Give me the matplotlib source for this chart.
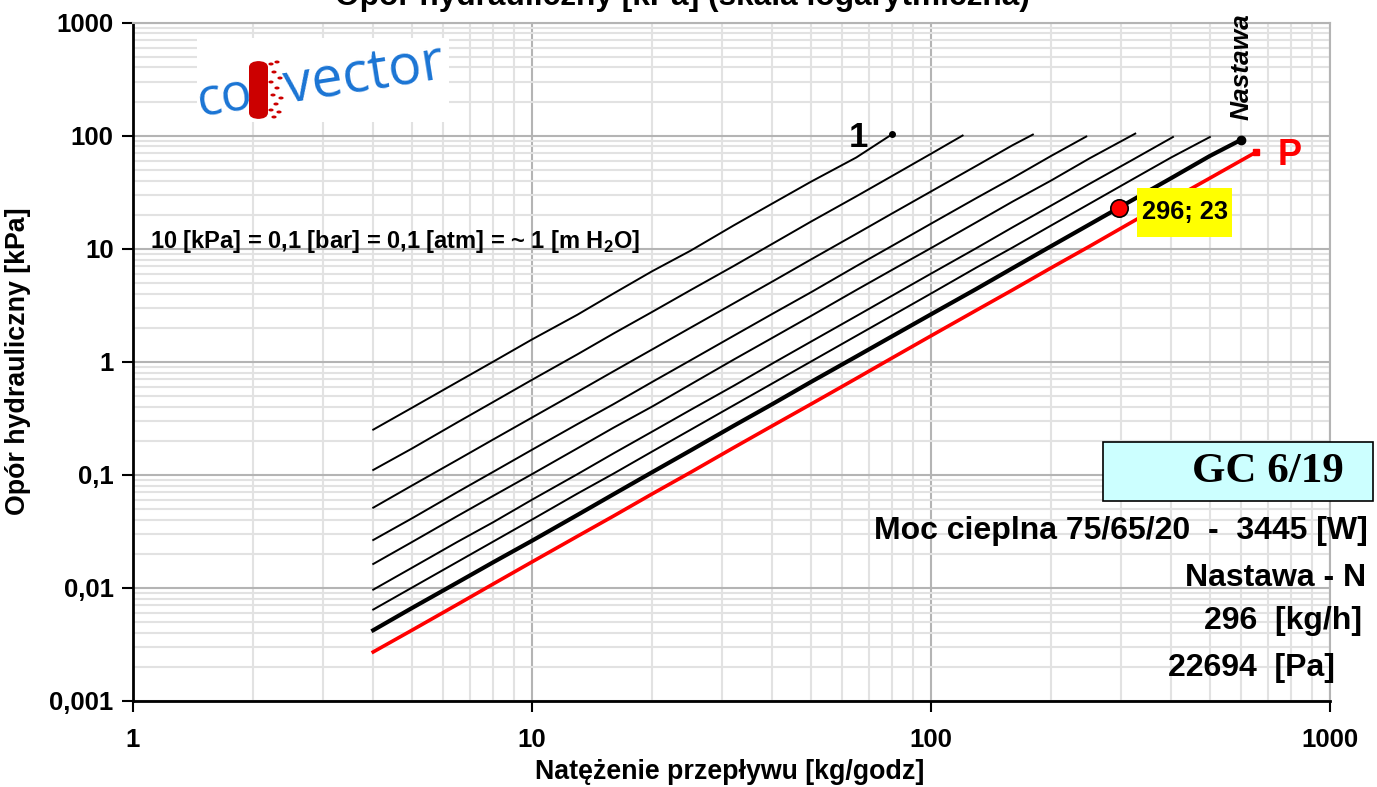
import matplotlib
matplotlib.use("Agg")
import matplotlib.pyplot as plt
from matplotlib.patches import Rectangle, FancyBboxPatch, Circle
from matplotlib.ticker import LogLocator, NullFormatter
from matplotlib.transforms import ScaledTranslation

plt.rcParams['font.family'] = ['Liberation Sans', 'DejaVu Sans']
plt.rcParams['mathtext.fontset'] = 'custom'
plt.rcParams['mathtext.rm'] = 'Liberation Sans:bold'

# --- DATA ---
x_grid = [4, 5, 6.5, 8, 10, 13, 16, 20, 25, 32, 40, 50, 65, 80, 100, 130, 160, 200, 250, 320, 400, 500]

x_1 = x_grid[:13] + [80]
y_1 = [0.25, 0.39, 0.66, 1.0, 1.57, 2.6, 4.0, 6.3, 9.6, 16, 25, 39, 64, 103]

x_2 = x_grid[:15] + [120]
y_2 = [0.11, 0.17, 0.29, 0.44, 0.69, 1.16, 1.77, 2.75, 4.3, 7.0, 11.0, 17.3, 29, 44, 69, 100]

x_3 = x_grid[:17] + [180]
y_3 = [0.051, 0.080, 0.135, 0.205, 0.32, 0.54, 0.82, 1.28, 2.0, 3.27, 5.1, 8.0, 13.5, 20.5, 32, 54, 82, 102]

x_4 = x_grid[:18] + [245]
y_4 = [0.0264, 0.041, 0.070, 0.106, 0.166, 0.28, 0.42, 0.66, 1.03, 1.69, 2.64, 4.1, 7.0, 10.6, 16.6, 28, 42, 66, 98]

x_5 = x_grid[:19] + [325]
y_5 = [0.0162, 0.0253, 0.043, 0.065, 0.101, 0.171, 0.26, 0.40, 0.63, 1.04, 1.62, 2.53, 4.3, 6.5, 10.1, 17.1, 26, 40, 63, 104]

x_6 = x_grid[:20] + [404]
y_6 = [0.0096, 0.015, 0.0254, 0.038, 0.060, 0.101, 0.154, 0.24, 0.375, 0.61, 0.96, 1.5, 2.53, 3.84, 6.0, 10.1, 15.4, 24, 37.5, 61, 97]

x_7 = x_grid[:21] + [500]
y_7 = [0.0064, 0.0100, 0.0169, 0.0256, 0.040, 0.068, 0.102, 0.16, 0.25, 0.41, 0.64, 1.0, 1.69, 2.56, 4.0, 6.8, 10.2, 16, 25, 41, 64, 97]

x_n = x_grid + [600]
y_n = [0.0042, 0.0066, 0.0111, 0.0168, 0.026, 0.044, 0.067, 0.105, 0.164, 0.27, 0.42, 0.66, 1.11, 1.68, 2.62, 4.4, 6.7, 10.5, 16.4, 26.9, 42, 66, 92]

x_p = x_grid + [651]
y_p = [0.0027, 0.0042, 0.0071, 0.0108, 0.0169, 0.0285, 0.043, 0.0675, 0.105, 0.173, 0.27, 0.42, 0.71, 1.08, 1.69, 2.85, 4.3, 6.75, 10.5, 17.3, 27, 42, 71]

point_x, point_y = 296, 23

x_ticks = [1, 10, 100, 1000]
x_labels = ['1', '10', '100', '1000']
y_ticks = [0.001, 0.01, 0.1, 1, 10, 100, 1000]
y_labels = ['0,001', '0,01', '0,1', '1', '10', '100', '1000']

W, H = 1377, 787
fig = plt.figure(figsize=(W / 100, H / 100), dpi=100)
ax = fig.add_axes([133 / W, 1 - 700.7 / H, (1330 - 133) / W, (700.7 - 22.5) / H])


def fx(px):
    return px / W


def fy(py):
    return 1 - py / H


thin = [(x_1, y_1), (x_2, y_2), (x_3, y_3), (x_4, y_4), (x_5, y_5), (x_6, y_6), (x_7, y_7)]
for xs, ys in thin:
    ax.plot(xs, ys, color='black', lw=1.4, zorder=3)
ax.plot(x_n, y_n, color='black', lw=3.0, zorder=4)
ax.plot(x_p, y_p, color='#ff0000', lw=2.6, zorder=4)

# end markers
ax.plot(x_1[-1], y_1[-1], 'o', color='black', ms=4, zorder=5)
ax.plot(x_n[-1], y_n[-1], 'o', color='black', ms=6, zorder=5)
ax.plot(x_p[-1], y_p[-1], 's', color='#ff0000', ms=5, zorder=5)
ax.plot(point_x, point_y, 'o', color='#ff0000', mec='black', mew=1.2, ms=12.5, zorder=6)

ax.set_xscale('log')
ax.set_yscale('log')
ax.set_xlim(1, 1000)
ax.set_ylim(0.001, 1000)
ax.xaxis.set_minor_locator(LogLocator(base=10, subs=range(2, 10), numticks=20))
ax.yaxis.set_minor_locator(LogLocator(base=10, subs=range(2, 10), numticks=20))
ax.xaxis.set_minor_formatter(NullFormatter())
ax.yaxis.set_minor_formatter(NullFormatter())
ax.set_xticks(x_ticks)
ax.set_xticklabels(x_labels, fontsize=18.5, fontweight='bold')
ax.set_yticks(y_ticks)
ax.set_yticklabels(y_labels, fontsize=18.5, fontweight='bold')
ax.tick_params(which='major', direction='out', length=8, width=1.5, color='black')
ax.tick_params(axis='x', which='major', pad=12)
ax.tick_params(axis='y', which='major', pad=6)
ax.tick_params(which='minor', length=0)

ax.grid(which='major', color='#b4b4b4', lw=1.5)
ax.grid(which='minor', color='#e2e2e2', lw=1.5)
ax.set_axisbelow(True)
for s in ['left', 'bottom']:
    ax.spines[s].set_color('black')
    ax.spines[s].set_linewidth(2)
for s in ['top', 'right']:
    ax.spines[s].set_color('#b4b4b4')
    ax.spines[s].set_linewidth(1.5)

# axis labels
fig.text(fx(730), fy(772), 'Natężenie przepływu [kg/godz]', fontsize=19.3, fontweight='bold',
         ha='center', va='center')
fig.text(fx(18), fy(361), 'Opór hydrauliczny [kPa]', fontsize=19.3, fontweight='bold',
         ha='center', va='center', rotation=90)
fig.text(fx(682), fy(5), 'Opór hydrauliczny [kPa] (skala logarytmiczna)', fontsize=22.8,
         fontweight='bold', ha='center', va='baseline')

# annotations on the chart
fig.text(fx(150), fy(248), '10 [kPa] = 0,1 [bar] = 0,1 [atm] = ~ 1 [m H$_2$O]', fontsize=17,
         fontweight='bold', ha='left', va='baseline')
ax.annotate('1', (x_1[-1], y_1[-1]), xytext=(-34, -3), textcoords='offset pixels',
            fontsize=25, fontweight='bold', ha='center', va='center')
ax.annotate('Nastawa', (x_n[-1], y_n[-1]), xytext=(0, 20), textcoords='offset pixels',
            fontsize=19, fontweight='bold', style='italic', rotation=90, ha='center', va='bottom')
ax.annotate('P', (x_p[-1], y_p[-1]), xytext=(22, -3), textcoords='offset pixels',
            fontsize=26, fontweight='bold', color='#ff0000', ha='left', va='center')

# yellow label next to the operating point (offsets in pixels from the point)
pt_trans = ScaledTranslation(point_x, point_y, ax.transData)
ax.add_patch(Rectangle((18, -29), 95, 49, transform=pt_trans, fc='#ffff00', ec='none', zorder=7))
ax.annotate(f'{point_x}; {point_y}', (point_x, point_y), xytext=(65.5, -4.5), textcoords='offset pixels',
            fontsize=18.3, fontweight='bold', ha='center', va='center', zorder=8)

# product box
fig.add_artist(Rectangle((fx(1103), fy(501)), 270 / W, 59 / H, transform=fig.transFigure,
                         fc='#ccffff', ec='black', lw=1.2, zorder=5))
fig.text(fx(1268), fy(472), 'GC 6/19', family='Liberation Serif', fontsize=31, fontweight='bold',
         ha='center', va='center', zorder=6)

info = [('Moc cieplna 75/65/20  -  3445 [W]', 1368, 539),
        ('Nastawa - N', 1366, 586),
        ('296  [kg/h]', 1362, 629),
        ('22694  [Pa]', 1335, 676)]
for txt, xr, yb in info:
    fig.text(fx(xr), fy(yb), txt, fontsize=23, fontweight='bold', ha='right', va='baseline', zorder=6)

# logo
fig.add_artist(Rectangle((fx(197), fy(122)), 252 / W, 84 / H, transform=fig.transFigure,
                         fc='white', ec='none', zorder=2))
fig.text(fx(199), fy(117), 'co', family='Open Sans', fontsize=37, color='#1a74d4',
         rotation=9, rotation_mode='anchor', ha='left', va='baseline', zorder=3)
fig.text(fx(287), fy(104), 'vector', family='Open Sans', fontsize=40, color='#1a74d4',
         rotation=9, rotation_mode='anchor', ha='left', va='baseline', zorder=3)
fig.add_artist(FancyBboxPatch((fx(249), fy(119)), 19 / W, 58 / H, transform=fig.transFigure,
                              boxstyle='round,pad=0,rounding_size=0.008', fc='#cc0000', ec='none', zorder=3))
for dx, dy in [(271, 64), (277, 62), (274, 72), (280, 78), (271, 82), (277, 88), (273, 95),
               (281, 98), (276, 104), (271, 110), (279, 112), (274, 117)]:
    fig.add_artist(Circle((fx(dx), fy(dy)), 2.6 / W, transform=fig.transFigure,
                          fc='#cc0000', ec='none', zorder=3))

fig.savefig('out.png', dpi=100, facecolor='white')
